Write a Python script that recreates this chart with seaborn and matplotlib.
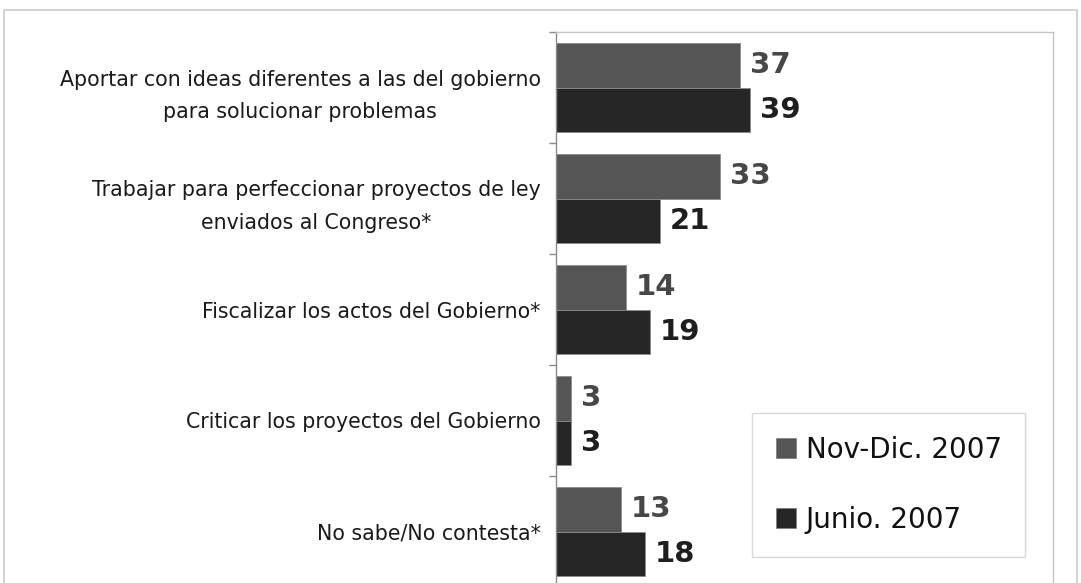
import matplotlib
matplotlib.use("Agg")
import matplotlib.pyplot as plt
import pandas as pd
import seaborn as sns
from matplotlib.lines import Line2D
from matplotlib.patches import Rectangle
from matplotlib.ticker import FixedLocator

# Survey data: role expected from the opposition (%)
categories = [
    "Aportar con ideas diferentes a las del gobierno\npara solucionar problemas",
    "Trabajar para perfeccionar proyectos de ley\nenviados al Congreso*",
    "Fiscalizar los actos del Gobierno*",
    "Criticar los proyectos del Gobierno",
    "No sabe/No contesta*",
]
series = ["Nov-Dic. 2007", "Junio. 2007"]
nov_dic = [37, 33, 14, 3, 13]
junio = [39, 21, 19, 3, 18]

bar_colors = ["#555555", "#262626"]
label_colors = ["#474747", "#1e1e1e"]

df = pd.DataFrame({
    "categoria": categories * 2,
    "periodo": [series[0]] * len(categories) + [series[1]] * len(categories),
    "valor": nov_dic + junio,
})

sns.set_theme(style="white")
plt.rcParams["font.family"] = ["DejaVu Sans"]

W, H = 1081, 583
fig = plt.figure(figsize=(W / 100, H / 100), dpi=100)
fig.patch.set_facecolor("white")

ax = fig.add_axes([556 / W, (H - 587) / H, 497 / W, 555 / H])

sns.barplot(
    data=df, y="categoria", x="valor", hue="periodo", order=categories,
    hue_order=series, palette=bar_colors, orient="h", width=0.8,
    edgecolor="#8c8c8c", linewidth=0.6, legend=False, ax=ax,
)

ax.set_xlim(0, 100)
ax.set_ylim(len(categories) - 0.5, -0.5)
ax.set_xlabel("")
ax.set_ylabel("")
ax.set_xticks([])

for cont, col in zip(ax.containers, label_colors):
    ax.bar_label(cont, fmt="%d", padding=7, fontsize=21,
                 fontweight="bold", color=col)

# Category labels centred on groups, tick marks on group boundaries
ax.tick_params(axis="y", which="major", length=0, pad=11,
               labelsize=14.8, labelcolor="#1a1a1a")
for t in ax.get_yticklabels():
    t.set_multialignment("center")
    t.set_linespacing(1.8)
ax.yaxis.set_minor_locator(FixedLocator([i - 0.5 for i in range(len(categories) + 1)]))
ax.tick_params(axis="y", which="minor", length=5, width=1, color="#8a8a8a",
               direction="out", left=True)

for side in ["top", "right"]:
    ax.spines[side].set_color("#c4c4c4")
    ax.spines[side].set_linewidth(1)
ax.spines["left"].set_color("#8a8a8a")
ax.spines["left"].set_linewidth(1)
ax.spines["bottom"].set_visible(False)

handles = [Line2D([], [], marker="s", linestyle="none", markersize=14,
                  markerfacecolor=c, markeredgecolor="#7a7a7a",
                  markeredgewidth=0.5) for c in bar_colors]
leg = fig.legend(
    handles, series, loc="center",
    bbox_to_anchor=(746 / W, 1 - 556 / H, 285 / W, 142 / H),
    bbox_transform=fig.transFigure, fontsize=20, frameon=True,
    fancybox=False, edgecolor="#d0d0d0", labelspacing=1.5,
    handletextpad=0.3, handlelength=0.8, borderpad=0.85,
)
leg.get_frame().set_linewidth(1)
for txt in leg.get_texts():
    txt.set_color("#111111")

# Slide frame around the chart
fig.patches.append(Rectangle((4 / W, -0.05), 1073 / W, 1 - 10 / H + 0.05,
                             transform=fig.transFigure, fill=False,
                             edgecolor="#cccccc", linewidth=1.2))

fig.savefig("out.png", dpi=100)
